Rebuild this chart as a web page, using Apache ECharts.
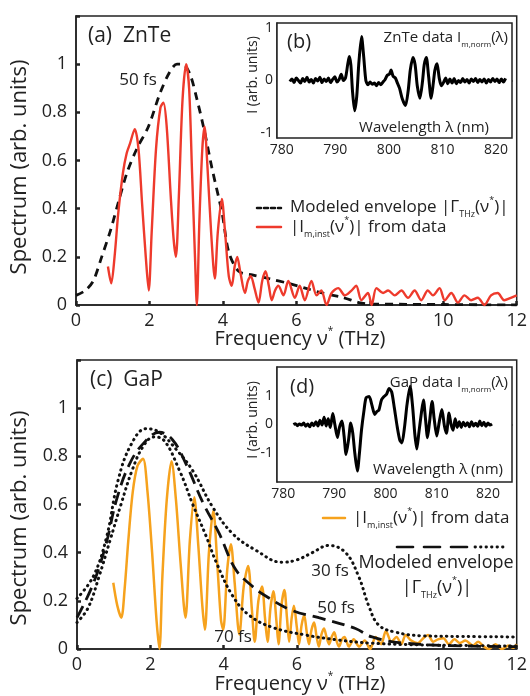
<!DOCTYPE html>
<html><head><meta charset="utf-8">
<script src="https://cdn.jsdelivr.net/npm/echarts@6/dist/echarts.min.js"></script>
<style>html,body{margin:0;padding:0;background:#fff}#c{width:530px;height:696px}</style>
</head><body><div id="c"></div>
<script>
const FONT = '"Open Sans", "Noto Sans", sans-serif';
const INK = '#222';
const RED = '#ee3a2c';
const ORANGE = '#f6a21d';

// tick values
const freqTicks = [0, 2, 4, 6, 8, 10, 12];
const spectrumTicks = [0, 0.2, 0.4, 0.6, 0.8, 1];
const wavelengthTicks = [780, 790, 800, 810, 820];
const insetTicks = [-1, 0, 1];

// (a) ZnTe: modeled envelope 50 fs [THz, arb]
const znteEnvelope50 = [[0,0.04],[0.25,0.06],[0.47,0.1],[0.7,0.2],[0.94,0.31],[1.16,0.43],[1.39,0.55],[1.66,0.65],[1.97,0.74],[2.29,0.88],[2.56,0.97],[2.75,1.0],[2.9,1.0],[3.1,0.96],[3.3,0.85],[3.5,0.72],[3.7,0.57],[3.98,0.38],[4.16,0.22],[4.43,0.14],[4.8,0.125],[5.24,0.11],[5.78,0.09],[6.24,0.07],[6.7,0.05],[7.3,0.03],[7.7,0.01],[8.0,0.004],[9,0.003],[10,0.002],[12,0.0]];
// (a) ZnTe: |I_m,inst| from data
const znteMeasured = [[0.87,0.16],[0.96,0.09],[1.05,0.2],[1.15,0.38],[1.28,0.55],[1.38,0.63],[1.47,0.67],[1.6,0.73],[1.7,0.65],[1.8,0.42],[1.9,0.2],[1.98,0.06],[2.06,0.3],[2.18,0.65],[2.3,0.82],[2.38,0.84],[2.47,0.74],[2.58,0.45],[2.66,0.27],[2.72,0.2],[2.8,0.45],[2.9,0.85],[3.0,1.0],[3.08,0.9],[3.16,0.55],[3.24,0.2],[3.29,0.0],[3.36,0.35],[3.44,0.65],[3.5,0.74],[3.57,0.6],[3.68,0.3],[3.78,0.11],[3.86,0.3],[3.97,0.44],[4.06,0.3],[4.16,0.12],[4.24,0.08],[4.32,0.16],[4.39,0.2],[4.47,0.14],[4.6,0.05],[4.68,0.1],[4.76,0.12],[4.86,0.07],[4.97,0.01],[5.07,0.1],[5.16,0.14],[5.25,0.08],[5.33,0.02],[5.42,0.06],[5.51,0.08],[5.65,0.04],[5.78,0.1],[5.96,0.03],[6.09,0.08],[6.23,0.02],[6.41,0.1],[6.55,0.04],[6.68,0.06],[6.82,0.0],[6.96,0.05],[7.14,0.07],[7.32,0.04],[7.5,0.06],[7.63,0.08],[7.77,0.02],[7.95,0.05],[8.05,0.0],[8.18,0.07],[8.36,0.05],[8.5,0.06],[8.68,0.04],[8.86,0.06],[9.04,0.03],[9.22,0.06],[9.4,0.02],[9.58,0.06],[9.72,0.04],[9.9,0.07],[10.04,0.02],[10.22,0.05],[10.4,0.01],[10.58,0.04],[10.76,0.02],[10.94,0.03],[11.12,0.0],[11.3,0.04],[11.48,0.05],[11.66,0.02],[11.84,0.03],[12,0.04]];

// (c) GaP: modeled envelopes 30/50/70 fs
const gapEnvelope30 = [[0,0.21],[0.44,0.3],[0.8,0.46],[1.12,0.7],[1.48,0.85],[1.89,0.915],[2.25,0.9],[2.7,0.83],[3.16,0.74],[3.7,0.59],[4.24,0.48],[4.88,0.41],[5.6,0.36],[6.0,0.37],[6.42,0.4],[6.87,0.43],[7.33,0.4],[7.69,0.3],[7.96,0.18],[8.23,0.1],[8.69,0.07],[9.4,0.055],[10.5,0.052],[12,0.05]];
const gapEnvelope50 = [[0,0.13],[0.44,0.27],[0.8,0.44],[1.08,0.62],[1.44,0.77],[1.85,0.86],[2.25,0.9],[2.6,0.87],[2.97,0.77],[3.43,0.61],[3.88,0.48],[4.33,0.33],[4.79,0.26],[5.15,0.22],[5.87,0.16],[6.6,0.13],[7.6,0.085],[8.05,0.05],[8.96,0.024],[10.77,0.012],[12,0.01]];
const gapEnvelope70 = [[0,0.11],[0.3,0.17],[0.6,0.3],[0.9,0.45],[1.2,0.6],[1.5,0.74],[1.8,0.84],[2.1,0.88],[2.35,0.87],[2.8,0.74],[3.16,0.6],[3.52,0.47],[3.8,0.36],[4.25,0.22],[4.7,0.14],[5.33,0.09],[6.24,0.058],[7.15,0.037],[8.05,0.024],[9.4,0.017],[12,0.012]];
// (c) GaP: |I_m,inst| from data
const gapMeasured = [[0.99,0.275],[1.1,0.18],[1.21,0.13],[1.3,0.25],[1.4,0.45],[1.52,0.65],[1.65,0.76],[1.8,0.79],[1.92,0.66],[2.05,0.4],[2.17,0.12],[2.25,0.0],[2.33,0.3],[2.45,0.62],[2.58,0.78],[2.7,0.62],[2.83,0.35],[2.96,0.13],[3.08,0.45],[3.2,0.63],[3.31,0.43],[3.42,0.18],[3.49,0.08],[3.6,0.4],[3.72,0.575],[3.83,0.35],[3.93,0.12],[3.99,0.08],[4.1,0.33],[4.2,0.435],[4.3,0.28],[4.43,0.06],[4.55,0.26],[4.67,0.345],[4.77,0.17],[4.85,0.03],[4.95,0.2],[5.05,0.26],[5.13,0.13],[5.2,0.03],[5.28,0.17],[5.36,0.24],[5.44,0.12],[5.5,0.02],[5.58,0.18],[5.66,0.245],[5.73,0.13],[5.79,0.03],[5.86,0.13],[5.92,0.18],[6.0,0.09],[6.06,0.02],[6.13,0.1],[6.2,0.14],[6.27,0.07],[6.33,0.02],[6.4,0.08],[6.47,0.11],[6.54,0.05],[6.6,0.01],[6.67,0.06],[6.74,0.085],[6.81,0.05],[6.88,0.02],[6.95,0.05],[7.02,0.07],[7.09,0.03],[7.15,0.01],[7.23,0.04],[7.3,0.05],[7.36,0.03],[7.42,0.01],[7.55,0.04],[7.7,0.01],[7.85,0.035],[8.0,0.0],[8.15,0.05],[8.3,0.02],[8.43,0.075],[8.58,0.03],[8.72,0.05],[8.85,0.02],[8.97,0.058],[9.12,0.035],[9.3,0.024],[9.45,0.045],[9.58,0.058],[9.72,0.03],[9.85,0.04],[10.0,0.045],[10.15,0.02],[10.3,0.04],[10.45,0.025],[10.6,0.035],[10.8,0.015],[10.95,0.03],[11.1,0.01],[11.25,0.0],[11.42,0.02],[11.6,0.0],[11.78,0.015],[11.9,0.005],[12.0,0.02]];

// (b) ZnTe data I_m,norm(lambda) [nm, arb]
const znteTrace = [[781.5,-0.02],[781.9,0.03],[782.3,-0.04],[782.7,0.05],[783.1,0.0],[783.5,-0.05],[783.9,0.04],[784.3,-0.02],[784.7,0.06],[785.1,-0.03],[785.5,0.02],[785.9,-0.05],[786.3,0.04],[786.7,-0.01],[787.1,0.06],[787.5,-0.04],[787.9,0.03],[788.3,-0.02],[788.7,0.05],[789.1,-0.04],[789.5,0.02],[789.9,0.07],[790.3,-0.03],[790.7,0.02],[791.1,0.12],[791.5,0.0],[791.9,0.05],[792.3,0.3],[792.6,0.46],[792.9,0.3],[793.2,-0.2],[793.6,-0.58],[794.0,-0.3],[794.4,0.35],[794.9,0.84],[795.3,0.45],[795.7,0.0],[796.1,-0.08],[796.5,-0.03],[796.9,-0.07],[797.3,-0.05],[797.7,-0.1],[798.1,-0.04],[798.5,-0.08],[798.9,-0.03],[799.3,0.02],[799.7,0.1],[800.1,0.12],[800.4,0.2],[800.8,0.08],[801.2,0.05],[801.6,-0.05],[802.0,-0.15],[802.5,-0.35],[803.1,-0.48],[803.6,-0.2],[804.0,0.2],[804.5,0.44],[804.9,0.3],[805.3,-0.1],[805.8,-0.34],[806.3,0.0],[806.6,0.3],[807.0,0.44],[807.4,0.1],[807.9,-0.34],[808.3,-0.05],[808.6,0.2],[809.0,0.32],[809.4,0.05],[809.8,-0.1],[810.2,-0.04],[810.6,0.05],[811.0,-0.06],[811.4,0.03],[811.8,-0.05],[812.2,0.04],[812.6,-0.06],[813.0,0.0],[813.4,-0.04],[813.8,0.04],[814.2,-0.03],[814.6,0.02],[815.0,-0.05],[815.4,0.03],[815.8,-0.02],[816.2,0.04],[816.6,-0.04],[817.0,0.02],[817.4,-0.03],[817.8,0.03],[818.2,-0.05],[818.6,0.02],[819.0,-0.03],[819.4,0.04],[819.8,-0.02],[820.2,0.03],[820.6,-0.04],[821.0,0.03],[821.4,-0.03],[821.8,0.04]];
// (d) GaP data I_m,norm(lambda)
const gapTrace = [[782.0,0.0],[782.4,0.03],[782.8,-0.04],[783.2,0.02],[783.6,-0.02],[784.0,0.05],[784.4,-0.06],[784.8,0.02],[785.2,-0.08],[785.6,0.05],[786.0,-0.04],[786.4,0.1],[786.8,-0.05],[787.2,0.15],[787.6,-0.02],[788.0,0.25],[788.4,-0.05],[788.8,0.2],[789.2,-0.1],[789.7,0.38],[790.1,0.0],[790.6,-0.45],[791.0,-0.1],[791.5,0.12],[791.9,-0.4],[792.3,-1.04],[792.8,-0.5],[793.2,0.05],[793.6,-0.3],[794.0,-1.0],[794.5,-1.62],[794.9,-1.0],[795.3,-0.2],[795.8,0.5],[796.2,0.93],[796.8,0.97],[797.3,0.7],[797.9,0.35],[798.3,0.45],[798.7,0.5],[799.2,0.85],[799.7,0.97],[800.2,1.05],[800.7,1.25],[801.2,1.13],[801.7,0.6],[802.3,-0.1],[802.8,-0.55],[803.2,-0.64],[803.7,-0.1],[804.2,0.7],[804.8,1.33],[805.3,0.6],[805.7,-0.3],[806.1,-0.85],[806.5,-0.3],[807.0,0.4],[807.4,0.85],[807.8,0.2],[808.2,-0.46],[808.6,0.1],[809.1,0.8],[809.5,0.2],[810.0,-0.4],[810.5,0.1],[811.0,0.52],[811.5,-0.05],[811.9,-0.3],[812.4,0.4],[812.8,0.0],[813.2,-0.2],[813.6,0.2],[814.0,-0.1],[814.4,0.1],[814.8,-0.1],[815.2,0.08],[815.6,-0.05],[816.0,0.06],[816.4,-0.08],[816.8,0.1],[817.2,-0.05],[817.6,0.04],[818.0,-0.06],[818.4,0.12],[818.8,-0.04],[819.2,0.08],[819.6,-0.06],[820.0,0.05],[820.4,-0.02],[820.8,0.02]];

const chart = echarts.init(document.getElementById('c'), null, {renderer: 'canvas'});

function mainX(gi) {
  return {gridIndex: gi, type: 'value', min: 0, max: 12, interval: 2,
    axisLine: {show: true, lineStyle: {color: INK, width: 1.5}},
    axisTick: {show: true, inside: true, length: 4, lineStyle: {color: INK, width: 2.5}},
    axisLabel: {color: INK, fontSize: 18, fontFamily: FONT, margin: 7},
    splitLine: {show: false}};
}
function mainY(gi) {
  return {gridIndex: gi, type: 'value', min: 0, max: 1.2, interval: 0.2,
    axisLine: {show: true, lineStyle: {color: INK, width: 1.5}},
    axisTick: {show: true, inside: true, length: 4, lineStyle: {color: INK, width: 2.5}},
    axisLabel: {color: INK, fontSize: 18, fontFamily: FONT, margin: 9,
      formatter: v => v > 1.05 ? '' : (Math.abs(v) < 1e-9 ? '0' : (Math.abs(v - 1) < 1e-9 ? '1' : v.toFixed(1)))},
    splitLine: {show: false}};
}
function insetX(gi, mn, mx) {
  return {gridIndex: gi, type: 'value', min: mn, max: mx,
    axisLine: {show: true, lineStyle: {color: INK, width: 1.5}},
    axisTick: {show: true, inside: true, length: 3, customValues: wavelengthTicks, lineStyle: {color: INK, width: 1.5}},
    axisLabel: {color: INK, fontSize: 14, fontFamily: FONT, margin: 5, customValues: wavelengthTicks},
    splitLine: {show: false}};
}
function insetY(gi, mn, mx) {
  return {gridIndex: gi, type: 'value', min: mn, max: mx,
    axisLine: {show: true, lineStyle: {color: INK, width: 1.5}},
    axisTick: {show: true, inside: true, length: 3, customValues: insetTicks, lineStyle: {color: INK, width: 1.5}},
    axisLabel: {color: INK, fontSize: 14, fontFamily: FONT, margin: 4, customValues: insetTicks},
    splitLine: {show: false}};
}

function richSized(fs, subFs) {
  return {
    n: {fontSize: fs, fontFamily: FONT, color: INK, lineHeight: fs + 6},
    sub: {fontSize: subFs, fontFamily: FONT, color: INK, lineHeight: subFs, verticalAlign: 'bottom'},
    sup: {fontSize: subFs, fontFamily: FONT, color: INK, lineHeight: subFs + 2, verticalAlign: 'top'}
  };
}
function txt(x, y, text, fs, align, extra) {
  return Object.assign({type: 'text', x: x, y: y, silent: true, z: 100,
    style: {text: text, fill: INK, fontSize: fs, fontFamily: FONT, align: align || 'left', verticalAlign: 'middle'}}, extra || {});
}
function rtxt(x, y, text, fs, subFs, align) {
  return {type: 'text', x: x, y: y, silent: true, z: 100,
    style: {text: text, fill: INK, fontSize: fs, fontFamily: FONT, align: align || 'left', verticalAlign: 'middle', rich: richSized(fs, subFs)}};
}
function seg(x1, y1, x2, y2, color, dash, w) {
  return {type: 'line', silent: true, z: 100, shape: {x1, y1, x2, y2},
    style: {stroke: color, lineWidth: w || 2.5, lineDash: dash || null, lineCap: 'round'}};
}

const DOT = [0.5, 5];
const option = {
  backgroundColor: '#fff',
  animation: false,
  grid: [
    {left: 76, top: 16, width: 443, height: 289, show: true, borderColor: INK, borderWidth: 1.5, backgroundColor: 'transparent'},
    {left: 77, top: 360, width: 442, height: 289, show: true, borderColor: INK, borderWidth: 1.5, backgroundColor: 'transparent'},
    {left: 277, top: 23, width: 235, height: 115, show: true, borderColor: INK, borderWidth: 1.5, backgroundColor: '#fff', z: 3},
    {left: 277, top: 367, width: 235, height: 115, show: true, borderColor: INK, borderWidth: 1.5, backgroundColor: '#fff', z: 3}
  ],
  xAxis: [mainX(0), mainX(1), insetX(2, 779.1, 823.0), insetX(3, 778.8, 824.7)],
  yAxis: [mainY(0), mainY(1), insetY(2, -1.1, 1.1), insetY(3, -2, 2)],
  series: [
    {type: 'line', name: 'ZnTe envelope 50 fs', xAxisIndex: 0, yAxisIndex: 0, data: znteEnvelope50, symbol: 'none', smooth: 0.3,
      lineStyle: {color: '#111', width: 2.8, type: [8, 6]}, z: 2},
    {type: 'line', name: 'ZnTe data', xAxisIndex: 0, yAxisIndex: 0, data: znteMeasured, symbol: 'none', smooth: 0.3,
      lineStyle: {color: RED, width: 2.4}, z: 3},
    {type: 'line', name: 'GaP data', xAxisIndex: 1, yAxisIndex: 1, data: gapMeasured, symbol: 'none', smooth: 0.3,
      lineStyle: {color: ORANGE, width: 2.5}, z: 2},
    {type: 'line', name: 'GaP envelope 30 fs', xAxisIndex: 1, yAxisIndex: 1, data: gapEnvelope30, symbol: 'none', smooth: 0.4,
      lineStyle: {color: '#111', width: 3, type: DOT, cap: 'round'}, z: 3},
    {type: 'line', name: 'GaP envelope 50 fs', xAxisIndex: 1, yAxisIndex: 1, data: gapEnvelope50, symbol: 'none', smooth: 0.4,
      lineStyle: {color: '#111', width: 2.8, type: [13, 7]}, z: 3},
    {type: 'line', name: 'GaP envelope 70 fs', xAxisIndex: 1, yAxisIndex: 1, data: gapEnvelope70, symbol: 'none', smooth: 0.4,
      lineStyle: {color: '#111', width: 3, type: DOT, cap: 'round'}, z: 3},
    {type: 'line', name: 'ZnTe trace', xAxisIndex: 2, yAxisIndex: 2, data: znteTrace, symbol: 'none', smooth: 0.25,
      lineStyle: {color: '#000', width: 3}, z: 5},
    {type: 'line', name: 'GaP trace', xAxisIndex: 3, yAxisIndex: 3, data: gapTrace, symbol: 'none', smooth: 0.25,
      lineStyle: {color: '#000', width: 3}, z: 5}
  ],
  graphic: [
    // axis titles
    txt(20, 167, 'Spectrum (arb. units)', 22, 'center', {rotation: Math.PI / 2}),
    txt(20, 518, 'Spectrum (arb. units)', 22, 'center', {rotation: Math.PI / 2}),
    rtxt(300, 339, '{n|Frequency ν}{sup|*}{n| (THz)}', 20, 10, 'center'),
    rtxt(300, 684, '{n|Frequency ν}{sup|*}{n| (THz)}', 20, 10, 'center'),
    // panel labels
    txt(88, 36, '(a)  ZnTe', 21),
    txt(90, 380, '(c)  GaP', 21),
    txt(138, 80, '50 fs', 17, 'center'),
    txt(330, 571, '30 fs', 17, 'center'),
    txt(336, 608, '50 fs', 17, 'center'),
    txt(233, 637, '70 fs', 17, 'center'),
    // top legend
    seg(257, 208, 281, 208, '#111', [4, 3]),
    rtxt(290, 207, '{n|Modeled envelope |Γ}{sub|THz}{n|(ν}{sup|*}{n|)|}', 17, 9),
    seg(257, 227, 281, 227, RED, null),
    rtxt(290, 227, '{n||I}{sub|m,inst}{n|(ν}{sup|*}{n|)| from data}', 17, 9),
    // bottom legend
    seg(323, 518, 345, 518, ORANGE, null),
    rtxt(353, 518, '{n||I}{sub|m,inst}{n|(ν}{sup|*}{n|)| from data}', 17, 9),
    seg(397, 547, 413, 547, '#111', null, 2.6),
    seg(424, 547, 440, 547, '#111', null, 2.6),
    seg(451, 547, 467, 547, '#111', null, 2.6),
    seg(475, 547, 504, 547, '#111', DOT, 2.8),
    txt(436, 563, 'Modeled envelope', 18, 'center'),
    rtxt(437, 588, '{n||Γ}{sub|THz}{n|(ν}{sup|*}{n|)|}', 18, 9, 'center'),
    // inset texts
    txt(287, 42, '(b)', 20),
    rtxt(508, 38, '{n|ZnTe data I}{sub|m,norm}{n|(λ)}', 15, 8, 'right'),
    txt(489, 128, 'Wavelength λ (nm)', 15, 'right'),
    txt(253, 75, 'I (arb. units)', 14, 'center', {rotation: Math.PI / 2}),
    txt(290, 387, '(d)', 20),
    rtxt(508, 383, '{n|GaP data I}{sub|m,norm}{n|(λ)}', 15, 8, 'right'),
    txt(503, 470, 'Wavelength λ (nm)', 15, 'right'),
    txt(253, 420, 'I (arb. units)', 14, 'center', {rotation: Math.PI / 2})
  ]
};
chart.setOption(option);
</script>
</body></html>
